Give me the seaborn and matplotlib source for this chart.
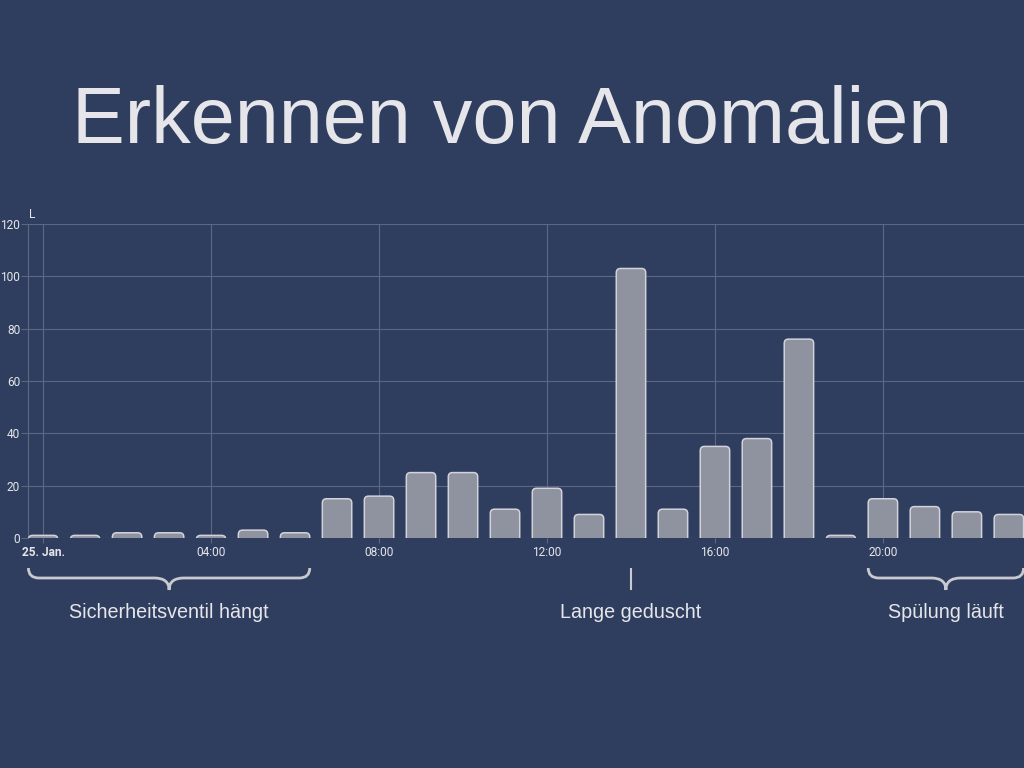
import matplotlib
matplotlib.use("Agg")
import matplotlib.pyplot as plt
import matplotlib.transforms as mtransforms
from matplotlib.patches import FancyBboxPatch, PathPatch
from matplotlib.path import Path
import seaborn as sns
import pandas as pd

# hourly water use on 25 Jan, litres
hours = list(range(24))
litres = [1, 1, 2, 2, 1, 3, 2, 15, 16, 25, 25, 11, 19, 9, 103, 11, 35, 38, 76, 1, 15, 12, 10, 9]
tick_hours = [0, 4, 8, 12, 16, 20]
tick_labels = ["25. Jan.", "04:00", "08:00", "12:00", "16:00", "20:00"]

# annotations: (first hour, last hour, text) -- single hour gets a plain mark
notes = [(0, 6, "Sicherheitsventil hängt"),
         (14, 14, "Lange geduscht"),
         (20, 23, "Spülung läuft")]

BG = "#2f3e5f"
GRID = "#5c6783"
TXT = "#e6e6ea"
BAR = "#8f939f"
BAR_EDGE = "#d2d3da"

title_font = ["Liberation Sans", "DejaVu Sans"]
tick_font = ["Roboto", "DejaVu Sans"]

df = pd.DataFrame({"hour": hours, "litres": litres})

fig = plt.figure(figsize=(10.24, 7.68), dpi=100, facecolor=BG)
ax = fig.add_axes([28 / 1024, 1 - 538 / 768, 996 / 1024, 314 / 768])
ax.set_facecolor(BG)

sns.barplot(data=df, x="hour", y="litres", width=0.7, color=BAR, ax=ax)
ax.set_xlim(-0.36, 23.36)
ax.set_ylim(0, 120)

# swap the plain bars for ones with rounded tops
px_x = 996 / (23.36 + 0.36)
px_y = 314 / 120
aspect = px_x / px_y
for p in list(ax.patches):
    x, w, h = p.get_x(), p.get_width(), p.get_height()
    p.remove()
    rb = FancyBboxPatch((x, -6), w, h + 6,
                        boxstyle="round,pad=0,rounding_size=0.1",
                        mutation_aspect=aspect,
                        facecolor=BAR, edgecolor=BAR_EDGE, linewidth=1.1,
                        zorder=3, clip_on=True)
    ax.add_patch(rb)

ax.set_yticks(range(0, 121, 20))
ax.set_xticks(tick_hours)
ax.set_xticklabels(tick_labels)
ax.set_xlabel("")
ax.set_ylabel("")
ax.grid(True, color=GRID, linewidth=0.8, zorder=0)
ax.set_axisbelow(True)
for s in ["top", "right", "bottom"]:
    ax.spines[s].set_visible(False)
ax.spines["left"].set_color(GRID)
ax.spines["left"].set_linewidth(0.8)
ax.tick_params(axis="y", length=5, width=0.8, color=GRID, pad=0.6,
               labelsize=8.6, labelcolor=TXT)
ax.tick_params(axis="x", length=3.6, width=0.8, color=GRID, pad=2,
               labelsize=8.6, labelcolor=TXT)
for lab in ax.get_yticklabels() + ax.get_xticklabels():
    lab.set_fontfamily(tick_font)
ax.get_xticklabels()[0].set_fontweight("bold")

ax.text(29 / 1024, 1 - 214 / 768, "L", transform=fig.transFigure,
        fontsize=8.6, color=TXT, family=tick_font, ha="left", va="center")

fig.text(0.5, 1 - 123 / 768, "Erkennen von Anomalien", ha="center", va="center",
         fontsize=57, color=TXT, family=title_font)

# braces and labels below the axis
trans = mtransforms.blended_transform_factory(ax.transData, fig.transFigure)
fy = lambda py: 1 - py / 768
y_end, y_mid, y_tip = fy(568), fy(578), fy(590)
r_end, r_tip = 0.25, 0.35
for h0, h1, label in notes:
    xc = (h0 + h1) / 2
    if h0 == h1:
        verts = [(xc, y_end), (xc, y_tip)]
        codes = [Path.MOVETO, Path.LINETO]
        lw = 1.5
    else:
        x0, x1 = h0 - 0.35, h1 + 0.35
        verts = [(x0, y_end), (x0, y_mid), (x0 + r_end, y_mid),
                 (xc - r_tip, y_mid), (xc, y_mid), (xc, y_tip),
                 (xc, y_mid), (xc + r_tip, y_mid),
                 (x1 - r_end, y_mid), (x1, y_mid), (x1, y_end)]
        codes = [Path.MOVETO, Path.CURVE3, Path.CURVE3,
                 Path.LINETO, Path.CURVE3, Path.CURVE3,
                 Path.CURVE3, Path.CURVE3,
                 Path.LINETO, Path.CURVE3, Path.CURVE3]
        lw = 2
    pp = PathPatch(Path(verts, codes), transform=trans, facecolor="none",
                   edgecolor="#c9cad0", linewidth=lw, clip_on=False)
    fig.add_artist(pp)
    fig.text(xc, fy(613), label, transform=trans, ha="center", va="center",
             fontsize=14.2, color=TXT, family=title_font)

fig.savefig("out.png", dpi=100, facecolor=BG)
